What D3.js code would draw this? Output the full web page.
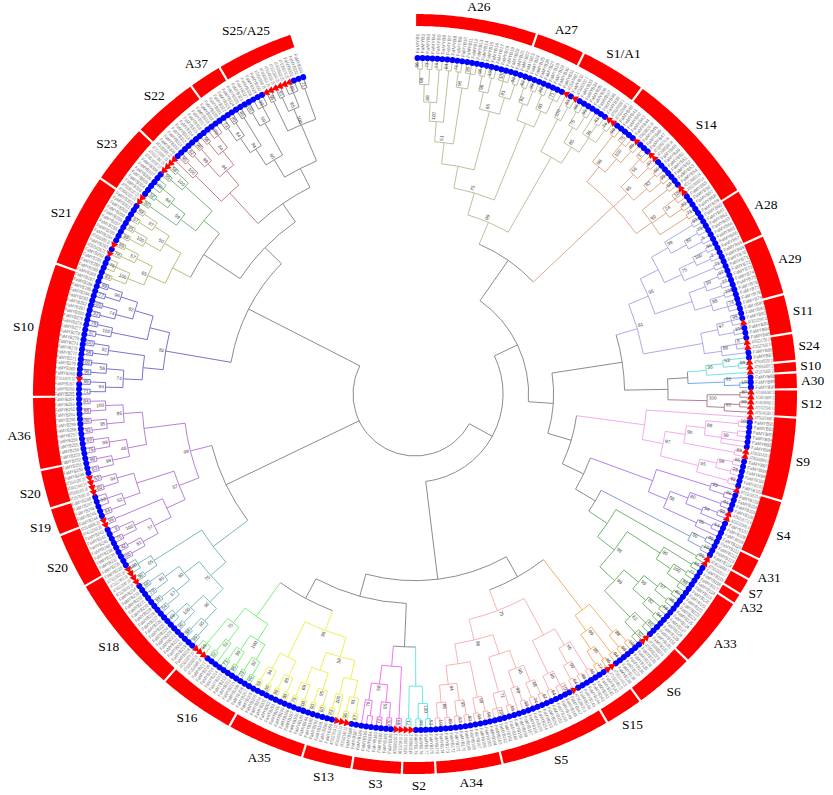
<!DOCTYPE html>
<html>
<head>
<meta charset="utf-8">
<script src="https://cdn.jsdelivr.net/npm/d3@7"></script>
<style>
body{margin:0;background:#fff}
</style>
</head>
<body>
<div class="top"></div>
<script>
// clade topologies: "." FaMYB leaf, "a" Arabidopsis leaf, digits after ")" = bootstrap
const cladeTrees = [
  "((" + "((((((..)56(..)73)99(..)74)88(..)84)100((..)71(...)85)96)51(((..)98(..)100)96((...)100(..)99)81)95)"
       + "(((..)62(..)99)92((..)88(...)71)60)" + ")75"
       + "((a(.a)93)100(((..)88(..)99)75(.(..)61(aa)74)94)85)" + ")99",
  "(((..)99((...)76(a.)89)100)98(((..a)5(a.)97)56((..)66(..)99)83)85((..)68((aa.)100(..)82)24(..)71)99)",
  "((" + "(((..)93((..)75(..)5)80)99(((..)96(..)2)100(..)71)75)"
       + "(((..)97(..)77)99((..)100(...)74)88)" + ")96"
       + "(((..a)99(..)100)97((.aa)8.)88)" + ")61",
  "((.(aa)99)53a)36",
  "(.(..)100)95",
  "((aa)80((aa)99a)92)100",
  "(a((((..)100((..)..)99)88(aa)89)90(((..)86(..)28)99(..)92)55)97)",
  "((a(..)96)99(((..)94((aa)92.)54)80((..)53.)95)58)",
  "((..)99(..)100)50",
  "((aa)95(((..)65((..)77(...)88)100)90((((..)80(..)96)97((..)58(..)94)82)99((...)60(aa.)52)62)99)98)",
  "(((..)100(..)99)88((..)94((aa)96(..)77)85)99)",
  "(" + "(((..)95((..)88(.a)64)99)96((...)100(..)94)85)"
      + "(" + "((((..)97(..)74)68((..)99.)98)90((..)58(...)100)71)"
      + "(((..)96(..)93)99(((..)80(..)53)99((..)89(..)100)86)94)" + ")98)75",
  "(((..)53(..)93)100(aa)71)",
  "((aa)99(((..)100(..)72)95((..).)76)58)",
  "((" + "(((..)87(aa)96)91(a(..)83)100)" + "(((..)60(..)90)95((..)100(..)75)69)" + ")58"
       + "(((..)90(..)99)85((..)100(..)69)94)" + ")95",
  "((((..)99(..)23)82((..)96(..)73)99)100((.(..)62)52(aaa)99)75)",
  "(((((..)99(..)88)95((..)96(...)63)100)96(((..)54(..)99)67((..)79(..)68)85)90)75((aa)96(aa.)100)65)",
  "((" + "((((..)100(..)42)81((..)75(..)9)100)57(aa)99)" + "(((..)94(...)53)52((aa)60(aa)53)94)" + ")57"
       + "((((..)63(..)99)99((..)75(..)69)99)48(((..)93(..)100)95((..)88(..)84)100)85)" + ")99",
  "(" + "((((..)71(.a)99)94((..)96(..)100)56)74((..)58(..)100)92)"
      + "(((..)57(..)79)100(((..)32(..)100)74((..)77(..)99)96)92)" + ")82",
  "((((..)83(...)76)100((a.)78(a.)89)57)65(((..)99(..)35)100((..)57(..)88)97)50)",
  "(((aa)90((..)52(...)100)69)99((.a)95(aa)58)100)",
  "((a(..)95)100(((..)62(..)98)99((..)56(...)100)84)94)",
  "(((((..)73(..)90)84(..)85)94((..)100(...)99)59)80((aa)95((aa)91(aa.)95)65(..)71)100)"
];
const cladeColors = ["#b4b48c","#d49a74","#9c9ce4","#5cdcdc","#5b9cf0","#a4687c","#f09cf0","#9c6cf0",
  "#6a8ec8","#58a858","#f4a04c","#f4a6a6","#4ce4e4","#ee5cee","#ecec3c","#66ec66","#64acb0","#ac68cc",
  "#5c5cc8","#b0b064","#68a868","#b46c6c","#7a7a7a"];
// how the clades join
const backbone = [[[[0,1],[[2,[[3,4],5]],[6,[7,[8,9]]]]],[[10,11],[[12,13],[14,15]]]],[16,17],[18,[[19,20],[21,22]]]];

// outer ring: group names and number of leaves, clockwise from top
const segNames = ["A26","A27","S1/A1","S14","A28","A29","S11","S24","S10","A30","S12","S9","S4","A31","S7","A32",
  "A33","S6","S15","S5","A34","S2","S3","S13","A35","S16","S18","S20","S19","S20","A36","S10","S21","S23","S22","A37","S25/A25"];
const segCounts = [22,9,12,25,9,11,7,5,2,3,5,15,11,4,3,2,13,11,7,20,12,6,9,9,14,14,22,10,5,7,13,24,17,11,12,6,14];

const atIds = ["AT2G47460","AT3G62610","AT5G49330","AT1G22640","AT4G38620","AT1G66370","AT1G66380","AT1G56650",
  "AT5G35550","AT3G13540","AT5G14750","AT3G27920","AT5G40330","AT5G52600","AT1G74650","AT1G06180","AT3G13890",
  "AT4G09460","AT1G25340","AT5G40360","AT5G07690","AT5G61420","AT5G60890","AT1G18570","AT5G16770","AT3G02940",
  "AT4G34990","AT5G15310","AT1G08810","AT5G06100","AT3G11440","AT2G32460","AT3G28470","AT1G69560","AT5G17800",
  "AT1G73410","AT5G65230","AT3G01140","AT4G05100","AT3G27810","AT1G16490","AT1G63910","AT5G12870","AT1G09540",
  "AT4G22680","AT1G17950","AT5G16600","AT4G12350","AT3G49690","AT1G79180","AT5G62470","AT4G21440","AT3G47600",
  "AT1G34670","AT5G54230","AT4G01680","AT5G62320","AT5G56110","AT3G24310","AT4G37260","AT2G23290","AT3G50060"];

const W = 833, H = 795, cx = 415, cy = 394;
const leafR = 336, rootR = 62, spanDeg = 341;

function parse(str) {
  const top = {children: []}, stack = [top];
  let i = 0;
  while (i < str.length) {
    const c = str[i];
    if (c === '(') { const n = {children: []}; stack[stack.length-1].children.push(n); stack.push(n); i++; }
    else if (c === ')') {
      const n = stack.pop(); i++;
      let s = '';
      while (i < str.length && /[0-9]/.test(str[i])) s += str[i++];
      if (s) n.support = s;
    }
    else { stack[stack.length-1].children.push({at: c === 'a'}); i++; }
  }
  return top.children[0];
}
function paint(n, col) { n.color = col; (n.children || []).forEach(c => paint(c, col)); }
function build(b) {
  if (typeof b === 'number') { const t = parse(cladeTrees[b]); paint(t, cladeColors[b]); return t; }
  return {children: b.map(build)};
}

const root = d3.hierarchy(build(backbone));
d3.cluster().size([spanDeg * Math.PI / 180, 1]).separation(() => 1)(root);
const hMax = root.height;
root.each(d => {
  d.r = leafR - (leafR - rootR) * Math.pow(d.height / hMax, 1.25);
  d.col = d.data.color || '#777';
});
const leaves = root.leaves();
const step = spanDeg * Math.PI / 180 / leaves.length;

// which ring group each leaf falls in
const segOf = [];
segCounts.forEach((n, k) => { for (let j = 0; j < n; j++) segOf.push(k); });
let fa = 0, at = 0;
leaves.forEach((d, i) => {
  const s = segNames[segOf[i]] || '';
  const m = s.match(/S(\d+)/);
  d.name = d.data.at ? atIds[at++ % atIds.length] + ' ' + (m ? m[1] : '') : 'FaMYB' + (++fa);
});

const p = (a, r) => [r * Math.sin(a), -r * Math.cos(a)];
const deg = a => a * 180 / Math.PI - 90;

const svg = d3.select('.top').selectChildren('svg').data([1])
  .join('svg')
    .attr('width', W).attr('height', H)
    .style('display', 'block')
    .style('background', '#fff');

const g = svg.selectChildren('g').data([1]).join('g')
  .attr('transform', `translate(${cx},${cy})`);

// arcs at each inner node
g.append('g').attr('class', 'arcs')
  .attr('fill', 'none').attr('stroke-width', 0.85)
  .selectAll('path').data(root.descendants().filter(d => d.children))
  .join('path')
    .attr('stroke', d => d.col)
    .attr('d', d => {
      const a0 = d.children[0].x, a1 = d.children[d.children.length-1].x;
      return `M${p(a0, d.r)}A${d.r},${d.r} 0 ${a1 - a0 > Math.PI ? 1 : 0} 1 ${p(a1, d.r)}`;
    });

// radial branches
g.append('g').attr('class', 'radials')
  .attr('fill', 'none').attr('stroke-width', 0.85)
  .selectAll('path').data(root.descendants().filter(d => d.parent))
  .join('path')
    .attr('stroke', d => d.col)
    .attr('d', d => `M${p(d.x, d.parent.r)}L${p(d.x, d.r)}`);

// bootstrap values
g.append('g').attr('class', 'support')
  .style('font', '4.8px "Liberation Sans", Arial, sans-serif')
  .attr('fill', '#444')
  .selectAll('text').data(root.descendants().filter(d => d.data.support))
  .join('text')
    .attr('transform', d => d.x < Math.PI
      ? `rotate(${deg(d.x)}) translate(${d.r + 1.5},-1.3)`
      : `rotate(${deg(d.x)}) translate(${d.r + 1.5},-1.3) rotate(180)`)
    .attr('text-anchor', d => d.x < Math.PI ? 'start' : 'end')
    .text(d => d.data.support);

// leaf markers
g.append('g').attr('class', 'marks')
  .selectAll('path').data(leaves)
  .join('path')
    .attr('transform', d => `rotate(${deg(d.x)}) translate(${leafR},0)`)
    .attr('d', d => d.data.at ? d3.symbol(d3.symbolTriangle, 24)() : d3.symbol(d3.symbolCircle, 28)())
    .attr('fill', d => d.data.at ? '#ff0000' : '#0000ff');

// leaf names
g.append('g').attr('class', 'names')
  .style('font', '4.8px "Liberation Sans", Arial, sans-serif')
  .attr('fill', '#707070')
  .selectAll('text').data(leaves)
  .join('text')
    .attr('transform', d => d.x < Math.PI
      ? `rotate(${deg(d.x)}) translate(${leafR + 4.5},0)`
      : `rotate(${deg(d.x)}) translate(${leafR + 4.5},0) rotate(180)`)
    .attr('text-anchor', d => d.x < Math.PI ? 'start' : 'end')
    .attr('dy', '0.35em')
    .attr('textLength', 20)
    .attr('lengthAdjust', 'spacingAndGlyphs')
    .text(d => d.name);

// outer ring
const segs = [];
let k0 = 0;
segCounts.forEach((n, k) => { segs.push({name: segNames[k], a0: k0 * step, a1: (k0 + n) * step}); k0 += n; });
const pad = 0.003;
const ring = d3.areaRadial()
  .angle(a => a)
  .innerRadius(a => 368 - 8 * Math.sin(a) ** 2)
  .outerRadius(a => 380 + 2 * Math.sin(a) ** 2);

g.append('g').attr('class', 'ring')
  .selectAll('path').data(segs)
  .join('path')
    .attr('fill', '#ff0000')
    .attr('d', s => ring(d3.range(41).map(j => s.a0 + pad + (s.a1 - s.a0 - 2 * pad) * j / 40)));

g.append('g').attr('class', 'ring-labels')
  .style('font', '13.5px "Liberation Serif", "Times New Roman", serif')
  .attr('fill', '#000')
  .selectAll('text').data(segs)
  .join('text')
    .attr('text-anchor', 'middle')
    .attr('dominant-baseline', 'central')
    .text(s => s.name)
    .each(function(s) {
      const m = (s.a0 + s.a1) / 2;
      const w = this.getComputedTextLength();
      const r = 386 + w / 2 * Math.abs(Math.sin(m)) + 5 * Math.abs(Math.cos(m));
      const [x, y] = p(m, r);
      d3.select(this).attr('x', x).attr('y', y);
    });
</script>
</body>
</html>
